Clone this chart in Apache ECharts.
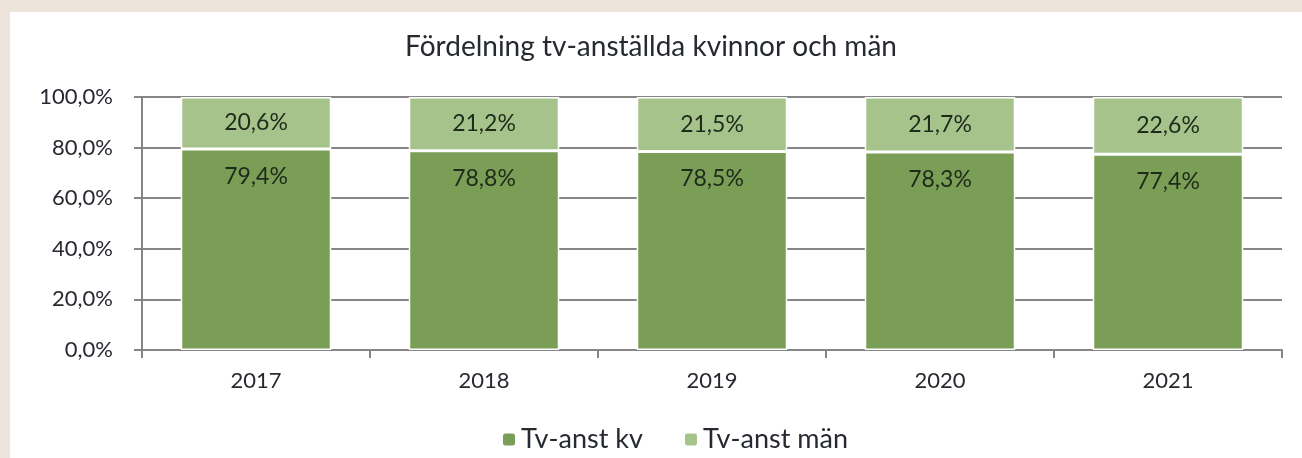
<!DOCTYPE html>
<html><head><meta charset="utf-8">
<script src="https://cdn.jsdelivr.net/npm/echarts@6/dist/echarts.min.js"></script>
<style>
html,body{margin:0;padding:0;background:#ede5dc;}
#wrap{position:absolute;left:10px;top:12px;right:0;bottom:0;background:#fff;}
#c{position:absolute;left:0;top:0;width:1302px;height:458px;}
</style></head>
<body>
<div id="wrap"></div>
<div id="c"></div>
<script>
const years = ['2017','2018','2019','2020','2021'];
const women = [79.4, 78.8, 78.5, 78.3, 77.4];
const men = [20.6, 21.2, 21.5, 21.7, 22.6];
const yTicks = [0,20,40,60,80,100];

const fmt = v => v.toFixed(1).replace('.', ',') + '%';
const FONT = 'Lato, "Open Sans", sans-serif';
const TXT = '#262a30';
const chart = echarts.init(document.getElementById('c'), null, {renderer:'canvas'});
chart.setOption({
  backgroundColor: 'transparent',
  animation: false,
  title: {
    text: 'Fördelning tv-anställda kvinnor och män',
    left: 'center', top: 28,
    textStyle: {fontFamily: FONT, fontSize: 28, fontWeight: 'normal', color: TXT}
  },
  legend: {
    bottom: 0, left: 496,
    itemWidth: 14, itemHeight: 14, itemGap: 40,
    textStyle: {fontFamily: FONT, fontSize: 27, color: TXT},
    data: ['Tv-anst kv', 'Tv-anst män']
  },
  grid: {left: 142, right: 20, top: 97, bottom: 108},
  xAxis: {
    type: 'category', data: years,
    axisLine: {lineStyle: {color: '#868686', width: 2}},
    axisTick: {show: true, length: 8, lineStyle: {color: '#868686', width: 2}},
    axisLabel: {fontFamily: FONT, fontSize: 22, color: TXT, margin: 20}
  },
  yAxis: {
    type: 'value', min: 0, max: 100, interval: 20,
    axisLine: {show: true, lineStyle: {color: '#868686', width: 2}},
    axisTick: {show: true, length: 8, lineStyle: {color: '#868686', width: 2}},
    splitLine: {lineStyle: {color: '#868686', width: 2}},
    axisLabel: {fontFamily: FONT, fontSize: 22, color: TXT, margin: 29,
      formatter: v => yTicks.includes(v) ? fmt(v) : ''}
  },
  series: [
    {
      name: 'Tv-anst kv', type: 'bar', stack: 's', barWidth: '66%',
      data: women,
      itemStyle: {color: '#7a9e55', borderColor: '#fff', borderWidth: 1.5},
      label: {show: true, position: 'insideTop', distance: 16, formatter: p => fmt(p.value),
        fontFamily: FONT, fontSize: 23, color: '#1e2a1a'}
    },
    {
      name: 'Tv-anst män', type: 'bar', stack: 's', barWidth: '66%',
      data: men,
      itemStyle: {color: '#a6c38c', borderColor: '#fff', borderWidth: 1.5},
      label: {show: true, position: 'inside', formatter: p => fmt(p.value),
        fontFamily: FONT, fontSize: 23, color: '#1e2a1a'}
    }
  ]
});
</script>
</body></html>
